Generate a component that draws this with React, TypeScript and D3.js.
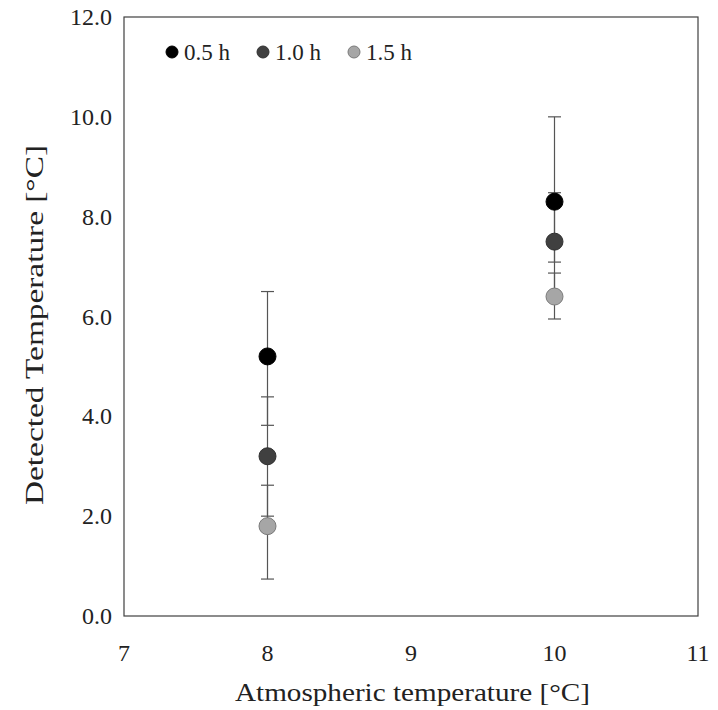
import React from "react";
import * as d3 from "d3";

// Atmospheric temperature (°C) at which each measurement was taken
const atmospheric = [8, 10];
// Series labels (elapsed time)
const seriesNames = ["0.5 h", "1.0 h", "1.5 h"];
const seriesFill = ["#000000", "#404040", "#a6a6a6"];
const seriesStroke = ["#000000", "#303030", "#7a7a7a"];
// Detected temperature means per series, one value per atmospheric temperature
const detected05 = [5.2, 8.3];
const detected10 = [3.2, 7.5];
const detected15 = [1.8, 6.4];
// Error bar ends (lower / upper) per series
const low05 = [3.82, 6.5];
const high05 = [6.5, 10.0];
const low10 = [2.0, 7.09];
const high10 = [4.39, 8.48];
const low15 = [0.74, 5.95];
const high15 = [2.62, 6.87];
// Axis ticks
const xTicks = [7, 8, 9, 10, 11];
const yTicks = [0, 2, 4, 6, 8, 10, 12];

const W = 718;
const H = 710;
const M = { left: 124, right: 20, top: 17, bottom: 94 };
const FONT = "'Liberation Serif', 'DejaVu Serif', serif";

export default function App() {
  const x = d3.scaleLinear().domain([7, 11]).range([M.left, W - M.right]);
  const y = d3.scaleLinear().domain([0, 12]).range([H - M.bottom, M.top]);

  const series = [
    { mean: detected05, low: low05, high: high05 },
    { mean: detected10, low: low10, high: high10 },
    { mean: detected15, low: low15, high: high15 },
  ];

  const capW = 6.5;
  const r = 8.5;

  return (
    <svg
      width={W}
      height={H}
      style={{ position: "absolute", left: 0, top: 0, background: "#fff" }}
      fontFamily={FONT}
    >
      <rect x={0} y={0} width={W} height={H} fill="#fff" />
      {/* plot frame */}
      <rect
        x={x(7)}
        y={y(12)}
        width={x(11) - x(7)}
        height={y(0) - y(12)}
        fill="none"
        stroke="#404040"
        strokeWidth={1.2}
      />
      {/* y ticks */}
      {yTicks.map((t) => (
        <text
          key={"y" + t}
          x={x(7) - 12}
          y={y(t)}
          textAnchor="end"
          dominantBaseline="central"
          fontSize={24}
          fill="#222"
        >
          {d3.format(".1f")(t)}
        </text>
      ))}
      {/* x ticks */}
      {xTicks.map((t) => (
        <text
          key={"x" + t}
          x={x(t)}
          y={661}
          textAnchor="middle"
          fontSize={24}
          fill="#222"
        >
          {t}
        </text>
      ))}
      <text
        x={235}
        y={701}
        fontSize={25}
        fill="#222"
        textLength={355}
        lengthAdjust="spacingAndGlyphs"
      >
        Atmospheric temperature [°C]
      </text>
      <text
        transform="translate(43,505) rotate(-90)"
        fontSize={25}
        fill="#222"
        textLength={360}
        lengthAdjust="spacingAndGlyphs"
      >
        Detected Temperature [°C]
      </text>
      {/* error bars */}
      {series.map((s, si) =>
        atmospheric.map((a, i) => (
          <g key={`e${si}-${i}`} stroke="#555" strokeWidth={1.2}>
            <line x1={x(a)} x2={x(a)} y1={y(s.low[i])} y2={y(s.high[i])} />
            <line x1={x(a) - capW} x2={x(a) + capW} y1={y(s.low[i])} y2={y(s.low[i])} />
            <line x1={x(a) - capW} x2={x(a) + capW} y1={y(s.high[i])} y2={y(s.high[i])} />
          </g>
        ))
      )}
      {/* markers */}
      {series.map((s, si) =>
        atmospheric.map((a, i) => (
          <circle
            key={`m${si}-${i}`}
            cx={x(a)}
            cy={y(s.mean[i])}
            r={r}
            fill={seriesFill[si]}
            stroke={seriesStroke[si]}
            strokeWidth={1}
          />
        ))
      )}
      {/* legend */}
      {seriesNames.map((n, i) => (
        <g key={n} transform={`translate(${172 + i * 91},52)`}>
          <circle r={6} fill={seriesFill[i]} stroke={seriesStroke[i]} strokeWidth={1} />
          <text x={12} y={0} dominantBaseline="central" fontSize={23} fill="#222">
            {n}
          </text>
        </g>
      ))}
    </svg>
  );
}
